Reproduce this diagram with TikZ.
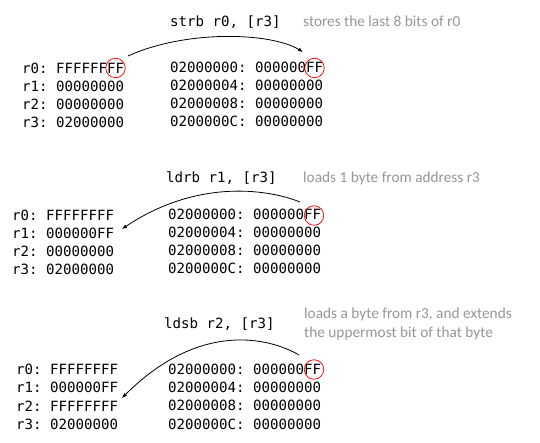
\documentclass[tikz,border=0pt]{standalone}
\usepackage{fontspec}
\setmonofont{DejaVu Sans Mono}
\newfontfamily\notefont{Carlito}
\usetikzlibrary{arrows.meta}
\definecolor{notegray}{RGB}{150,150,150}
\begin{document}
\begin{tikzpicture}[x=1pt,y=1pt,
  mono/.style={font=\ttfamily\fontsize{14.1}{17}\selectfont, inner sep=0pt, anchor=base west},
  note/.style={font=\notefont\fontsize{15.3}{19}\selectfont, text=notegray, inner sep=0pt, anchor=base west, align=left},
  ring/.style={circle, draw=red, line width=0.7pt, minimum size=19.5pt, inner sep=0pt},
  flow/.style={line width=0.8pt, -{Latex[length=5pt,width=4pt]}}]
\useasboundingbox (0,0) rectangle (540,-443);
% ---------- panel 1 ----------
\node[mono] (i1) at (170,-27) {strb r0, [r3]};
\node[note] (n1) at (303,-27) {stores the last 8 bits of r0};
\node[mono] (r10) at (22,-74) {r0: FFFFFFFF};
\node[mono] (r11) at (22,-92) {r1: 00000000};
\node[mono] (r12) at (22,-110) {r2: 00000000};
\node[mono] (r13) at (22,-128) {r3: 02000000};
\node[mono] (m10) at (170,-73) {02000000: 000000FF};
\node[mono] (m11) at (170,-91) {02000004: 00000000};
\node[mono] (m12) at (170,-109) {02000008: 00000000};
\node[mono] (m13) at (170,-127) {0200000C: 00000000};
\node[ring] (c1a) at (115.5,-68) {};
\node[ring] (c1b) at (314.5,-68) {};
\coordinate (a1s) at (128,-56);
\coordinate (a1e) at (303,-52);
\draw[flow] (a1s) .. controls (185,-30) and (270,-32) .. (a1e);
% ---------- panel 2 ----------
\node[mono] (i2) at (166,-183) {ldrb r1, [r3]};
\node[note] (n2) at (303,-183) {loads 1 byte from address r3};
\node[mono] (r20) at (12,-221) {r0: FFFFFFFF};
\node[mono] (r21) at (12,-239) {r1: 000000FF};
\node[mono] (r22) at (12,-257) {r2: 00000000};
\node[mono] (r23) at (12,-275) {r3: 02000000};
\node[mono] (m20) at (168,-220) {02000000: 000000FF};
\node[mono] (m21) at (168,-238) {02000004: 00000000};
\node[mono] (m22) at (168,-256) {02000008: 00000000};
\node[mono] (m23) at (168,-274) {0200000C: 00000000};
\node[ring] (c2) at (314,-215.5) {};
\coordinate (a2s) at (300,-202);
\coordinate (a2e) at (122,-229);
\draw[flow] (a2s) .. controls (265,-188) and (195,-180) .. (a2e);
% ---------- panel 3 ----------
\node[mono] (i3) at (164,-328) {ldsb r2, [r3]};
\node[note] (n3a) at (304,-318) {loads a byte from r3, and extends};
\node[note] (n3b) at (304,-337) {the uppermost bit of that byte};
\node[mono] (r30) at (16,-374) {r0: FFFFFFFF};
\node[mono] (r31) at (16,-392) {r1: 000000FF};
\node[mono] (r32) at (16,-411) {r2: FFFFFFFF};
\node[mono] (r33) at (16,-429) {r3: 02000000};
\node[mono] (m30) at (168,-374) {02000000: 000000FF};
\node[mono] (m31) at (168,-392) {02000004: 00000000};
\node[mono] (m32) at (168,-410) {02000008: 00000000};
\node[mono] (m33) at (168,-429) {0200000C: 00000000};
\node[ring] (c3) at (314,-369.5) {};
\coordinate (a3s) at (299,-355);
\coordinate (a3e) at (122,-398);
\draw[flow] (a3s) .. controls (270,-338) and (200,-320) .. (a3e);
\end{tikzpicture}
\end{document}
